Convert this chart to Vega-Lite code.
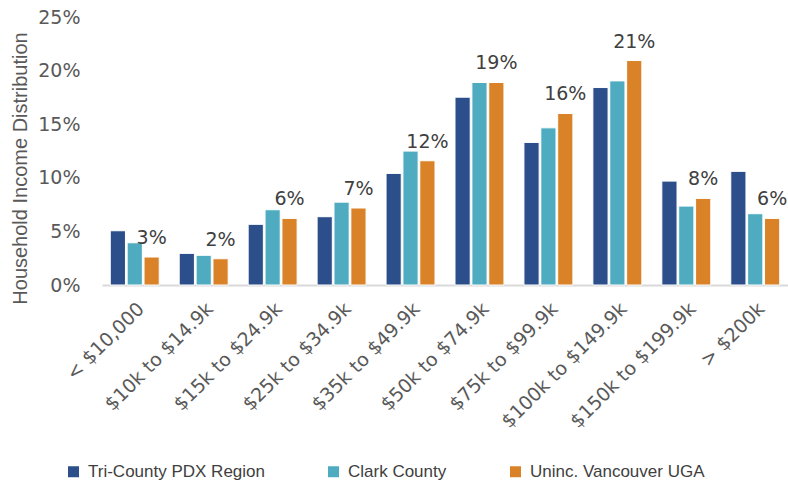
{
  "$schema": "https://vega.github.io/schema/vega-lite/v6.json",
  "width": 686,
  "height": 268,
  "autosize": {"type": "none"},
  "padding": {"left": 102, "top": 17, "right": 0, "bottom": 199},
  "background": "white",
  "config": {
    "view": {"stroke": null},
    "font": "Liberation Sans"
  },
  "data": {
    "values": [
      {"bracket": "< $10,000", "series": "Tri-County PDX Region", "value": 0.0506},
      {"bracket": "< $10,000", "series": "Clark County", "value": 0.0394},
      {"bracket": "< $10,000", "series": "Uninc. Vancouver UGA", "value": 0.0261},
      {"bracket": "$10k to $14.9k", "series": "Tri-County PDX Region", "value": 0.0295},
      {"bracket": "$10k to $14.9k", "series": "Clark County", "value": 0.0277},
      {"bracket": "$10k to $14.9k", "series": "Uninc. Vancouver UGA", "value": 0.0245},
      {"bracket": "$15k to $24.9k", "series": "Tri-County PDX Region", "value": 0.0566},
      {"bracket": "$15k to $24.9k", "series": "Clark County", "value": 0.0702},
      {"bracket": "$15k to $24.9k", "series": "Uninc. Vancouver UGA", "value": 0.0621},
      {"bracket": "$25k to $34.9k", "series": "Tri-County PDX Region", "value": 0.0637},
      {"bracket": "$25k to $34.9k", "series": "Clark County", "value": 0.0773},
      {"bracket": "$25k to $34.9k", "series": "Uninc. Vancouver UGA", "value": 0.0718},
      {"bracket": "$35k to $49.9k", "series": "Tri-County PDX Region", "value": 0.1041},
      {"bracket": "$35k to $49.9k", "series": "Clark County", "value": 0.1249},
      {"bracket": "$35k to $49.9k", "series": "Uninc. Vancouver UGA", "value": 0.1159},
      {"bracket": "$50k to $74.9k", "series": "Tri-County PDX Region", "value": 0.1752},
      {"bracket": "$50k to $74.9k", "series": "Clark County", "value": 0.1889},
      {"bracket": "$50k to $74.9k", "series": "Uninc. Vancouver UGA", "value": 0.1889},
      {"bracket": "$75k to $99.9k", "series": "Tri-County PDX Region", "value": 0.133},
      {"bracket": "$75k to $99.9k", "series": "Clark County", "value": 0.1466},
      {"bracket": "$75k to $99.9k", "series": "Uninc. Vancouver UGA", "value": 0.16},
      {"bracket": "$100k to $149.9k", "series": "Tri-County PDX Region", "value": 0.1842},
      {"bracket": "$100k to $149.9k", "series": "Clark County", "value": 0.1904},
      {"bracket": "$100k to $149.9k", "series": "Uninc. Vancouver UGA", "value": 0.2094},
      {"bracket": "$150k to $199.9k", "series": "Tri-County PDX Region", "value": 0.0969},
      {"bracket": "$150k to $199.9k", "series": "Clark County", "value": 0.0736},
      {"bracket": "$150k to $199.9k", "series": "Uninc. Vancouver UGA", "value": 0.0808},
      {"bracket": "> $200k", "series": "Tri-County PDX Region", "value": 0.106},
      {"bracket": "> $200k", "series": "Clark County", "value": 0.0665},
      {"bracket": "> $200k", "series": "Uninc. Vancouver UGA", "value": 0.0621}
    ]
  },
  "encoding": {
    "x": {
      "field": "bracket",
      "type": "nominal",
      "sort": null,
      "scale": {"paddingInner": 0.29, "paddingOuter": 0.12},
      "axis": {
        "title": null,
        "labelAngle": -45,
        "labelFont": "DejaVu Sans",
        "labelFontSize": 19,
        "labelColor": "#595959",
        "labelPadding": 14,
        "ticks": false,
        "domainColor": "#d9d9d9",
        "domainWidth": 2
      }
    },
    "xOffset": {
      "field": "series",
      "type": "nominal",
      "sort": ["Tri-County PDX Region", "Clark County", "Uninc. Vancouver UGA"],
      "scale": {"paddingInner": 0.1}
    },
    "y": {
      "field": "value",
      "type": "quantitative",
      "scale": {"domain": [0, 0.25], "nice": false},
      "axis": {
        "title": "Household Income Distribution",
        "titleFontSize": 20,
        "titleFontWeight": "normal",
        "titleColor": "#595959",
        "titleX": -82,
        "titleY": 151,
        "titleAngle": -90,
        "titleAlign": "center",
        "titleBaseline": "middle",
        "values": [0, 0.05, 0.1, 0.15, 0.2, 0.25],
        "format": ".0%",
        "labelFont": "DejaVu Sans",
        "labelFontSize": 19,
        "labelColor": "#595959",
        "labelPadding": 22,
        "ticks": false,
        "domain": false,
        "grid": false
      }
    }
  },
  "layer": [
    {
      "mark": {"type": "bar", "stroke": "white", "strokeWidth": 1},
      "encoding": {
        "color": {
          "field": "series",
          "type": "nominal",
          "sort": ["Tri-County PDX Region", "Clark County", "Uninc. Vancouver UGA"],
          "scale": {
            "domain": ["Tri-County PDX Region", "Clark County", "Uninc. Vancouver UGA"],
            "range": ["#2C4E8A", "#4FACC0", "#D98228"]
          },
          "legend": {
            "title": null,
            "orient": "none",
            "direction": "horizontal",
            "legendX": -37,
            "legendY": 446,
            "symbolType": "square",
            "symbolSize": 121,
            "symbolStrokeWidth": 0,
            "labelFontSize": 17,
            "labelColor": "#404040",
            "labelOffset": 6,
            "labelLimit": 300,
            "columnPadding": 60
          }
        }
      }
    },
    {
      "transform": [{"filter": "datum.series === 'Uninc. Vancouver UGA'"}],
      "mark": {"type": "text", "baseline": "alphabetic", "dy": -13, "font": "DejaVu Sans", "fontSize": 19, "color": "#404040"},
      "encoding": {
        "text": {"field": "value", "type": "quantitative", "format": ".0%"}
      }
    }
  ]
}
